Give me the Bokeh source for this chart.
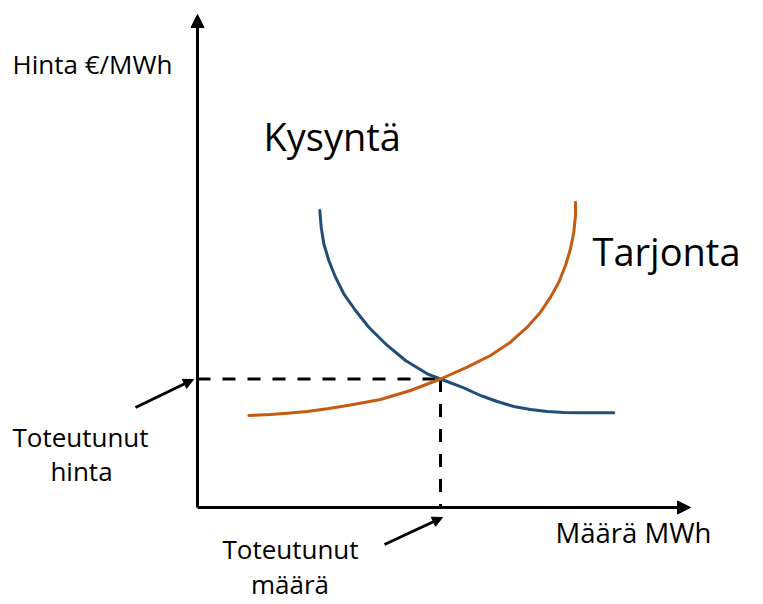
from bokeh.plotting import figure
from bokeh.models import Range1d, Arrow, NormalHead
from bokeh.core.properties import value
from bokeh.embed import file_html
from bokeh.resources import INLINE

# Demand (Kysyntä) curve: quantity, price
demand_q = [24.46, 24.74, 25.26, 26.26, 27.6, 29.26, 31.6, 34.26, 37.6, 41.6, 45.94,
            48.6, 53.26, 56.6, 59.94, 63.26, 66.6, 69.94, 73.26, 76.6, 83.26]
demand_p = [59.4, 56.06, 52.74, 49.4, 46.06, 42.74, 39.4, 36.06, 32.74, 29.4, 26.74,
            25.7, 23.94, 22.4, 21.2, 20.2, 19.6, 19.2, 19.0, 18.94, 18.94]

# Supply (Tarjonta) curve: quantity, price
supply_q = [10.26, 14.6, 17.94, 21.94, 25.94, 30.6, 36.6, 42.6, 48.6, 53.94, 58.6,
            62.6, 65.94, 68.6, 70.6, 72.26, 73.6, 74.6, 75.26, 75.6, 75.6]
supply_p = [18.4, 18.6, 18.86, 19.2, 19.74, 20.5, 21.6, 23.4, 25.7, 28.06, 30.4,
            33.06, 36.06, 39.06, 42.06, 45.06, 48.4, 51.74, 55.06, 58.4, 61.06]

# Equilibrium
eq_q = 48.6
eq_p = 25.7

# Axis extents
axis_x_end = 98.6
axis_y_end = 98.6

# Labels
big_labels = ["Kysyntä", "Tarjonta"]
big_x = [13.2, 79.0]
big_y = [74.4, 51.4]

ylab_text = ["Hinta €/MWh"]
ylab_x = [-37.0]
ylab_y = [88.8]

xlab_text = ["Määrä MWh"]
xlab_x = [71.6]
xlab_y = [-5.0]

note_labels = ["Toteutunut", "hinta", "Toteutunut", "määrä"]
note_x = [-23.4, -23.2, 18.6, 18.5]
note_y = [14.2, 7.4, -8.2, -15.2]

# Pointer arrows (tail -> tip)
ptr_x0 = [-12.4, 37.4]
ptr_y0 = [20.0, -7.4]
ptr_x1 = [-0.8, 49.0]
ptr_y1 = [25.6, -2.0]

FONT = value("Open Sans")

p = figure(width=763, height=604, output_backend="svg", toolbar_location=None,
           x_range=Range1d(-39.4, 113.2), y_range=Range1d(-19.4, 101.4),
           min_border=0, outline_line_color=None)
p.axis.visible = False
p.grid.visible = False
p.background_fill_color = "white"
p.border_fill_color = "white"

# axes with arrow heads
p.add_layout(Arrow(end=NormalHead(size=13, fill_color="black", line_color="black", line_width=1),
                   x_start=0, y_start=0, x_end=axis_x_end, y_end=0,
                   line_width=3, line_color="black"))
p.add_layout(Arrow(end=NormalHead(size=13, fill_color="black", line_color="black", line_width=1),
                   x_start=0, y_start=0, x_end=0, y_end=axis_y_end,
                   line_width=3, line_color="black"))

# dashed guides
p.line([0, eq_q], [eq_p, eq_p], line_color="black", line_width=3, line_dash="13 12")
p.line([eq_q, eq_q], [eq_p, 0], line_color="black", line_width=3, line_dash="13 12")

# curves
p.line(demand_q, demand_p, line_color="#1F4E79", line_width=3, line_join="round", line_cap="round")
p.line(supply_q, supply_p, line_color="#C55A11", line_width=3, line_join="round", line_cap="round")

# pointer arrows
for x0, y0, x1, y1 in zip(ptr_x0, ptr_y0, ptr_x1, ptr_y1):
    p.add_layout(Arrow(end=NormalHead(size=10, fill_color="black", line_color="black", line_width=1),
                       x_start=x0, y_start=y0, x_end=x1, y_end=y1,
                       line_width=3, line_color="black"))

# texts
p.text(x=big_x, y=big_y, text=big_labels, text_font=FONT, text_font_size="38px",
       text_color="black", text_baseline="alphabetic", text_align="left")
p.text(x=ylab_x, y=ylab_y, text=ylab_text, text_font=FONT, text_font_size="26px",
       text_color="black", text_baseline="alphabetic", text_align="left")
p.text(x=xlab_x, y=xlab_y, text=xlab_text, text_font=FONT, text_font_size="27.5px",
       text_color="black", text_baseline="alphabetic", text_align="left")
p.text(x=note_x, y=note_y, text=note_labels, text_font=FONT, text_font_size="26px",
       text_color="black", text_baseline="alphabetic", text_align="center")

open("out.html", "w").write(file_html(p, INLINE))
